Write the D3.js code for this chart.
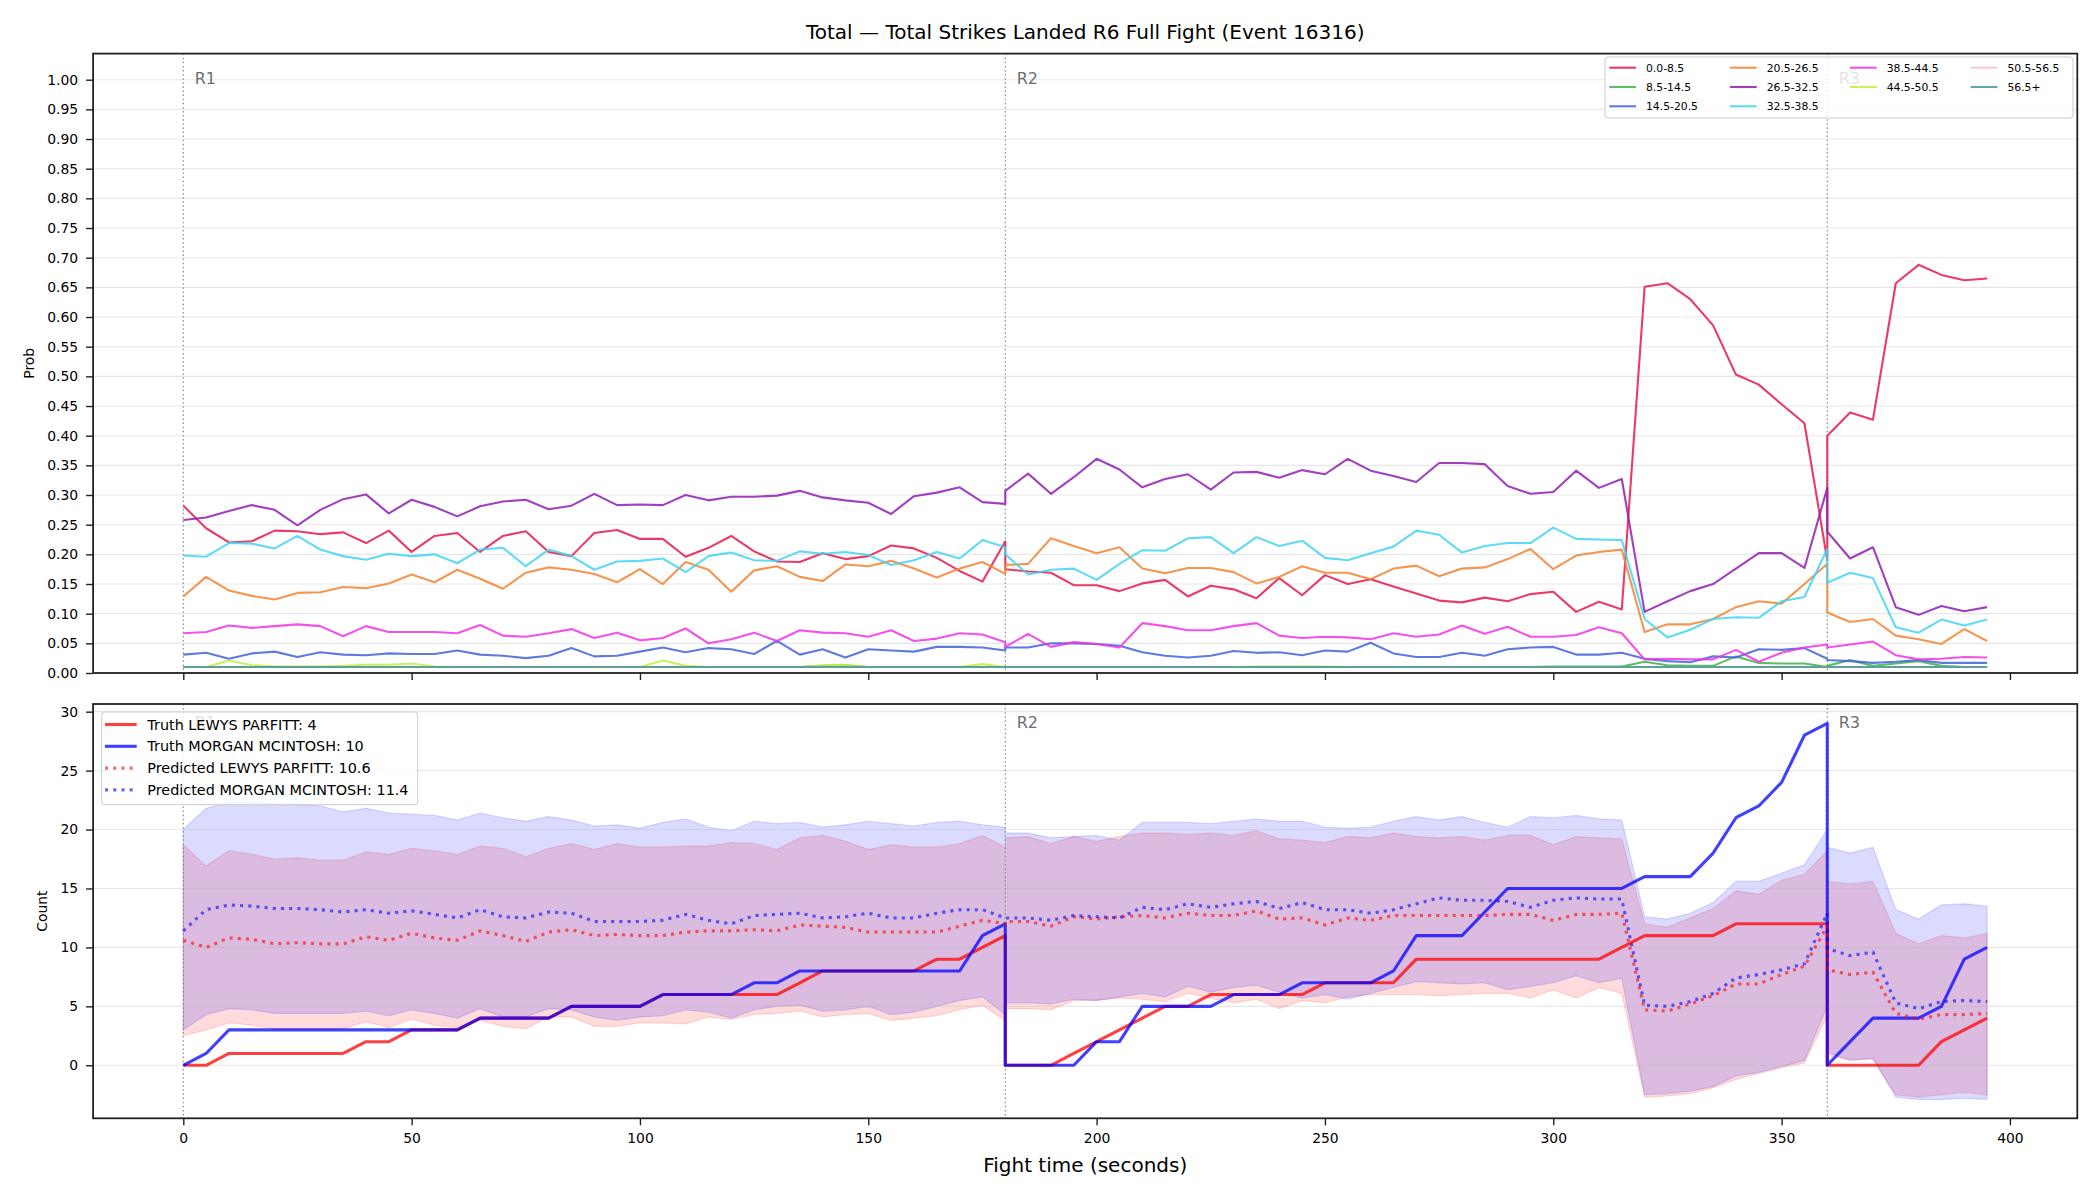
<!DOCTYPE html>
<html>
<head>
<meta charset="utf-8">
<script src="https://cdn.jsdelivr.net/npm/d3@7"></script>
<style>
  body { margin: 0; background: #fff; }
  svg { font-family: "DejaVu Sans", sans-serif; }
</style>
</head>
<body>
<svg id="chart" width="2100" height="1200"></svg>
<script>
// fight time (s). 180 and 360 appear twice: end of one round, start of the next
var times = [0,5,10,15,20,25,30,35,40,45,50,55,60,65,70,75,80,85,90,95,100,105,110,115,120,125,130,135,140,145,150,155,160,165,170,175,180,
  180,185,190,195,200,205,210,215,220,225,230,235,240,245,250,255,260,265,270,275,280,285,290,295,300,305,310,315,320,325,330,335,340,345,350,355,360,
  360,365,370,375,380,385,390,395];

var bucketLabels = ["0.0-8.5", "8.5-14.5", "14.5-20.5", "20.5-26.5", "26.5-32.5", "32.5-38.5", "38.5-44.5", "44.5-50.5", "50.5-56.5", "56.5+"];
var bucketColors = ["#e6194B", "#3cb44b", "#4363d8", "#f58231", "#911eb4", "#42d4f4", "#f032e6", "#bfef45", "#fabed4", "#469990"];

// probability of each total-strikes bucket over time
var p_0_8 = [.282,.244,.220,.222,.240,.239,.234,.237,.219,.240,.204,.231,.236,.204,.231,.239,.204,.197,.236,.241,.226,.226,.196,.211,.231,.205,.188,.187,.202,.192,.197,.215,.210,.194,.172,.154,.222,
  .175,.171,.169,.148,.148,.138,.151,.157,.129,.147,.141,.126,.160,.131,.165,.150,.158,.146,.134,.122,.119,.127,.121,.133,.137,.103,.120,.107,.651,.657,.630,.586,.503,.486,.453,.421,.190,
  .400,.439,.427,.657,.688,.671,.662,.665];
var p_8_14 = [.010,.010,.010,.010,.010,.010,.010,.010,.010,.010,.010,.010,.010,.010,.010,.010,.010,.010,.010,.010,.010,.010,.010,.010,.010,.010,.010,.010,.012,.013,.010,.010,.010,.010,.010,.010,.010,
  .010,.010,.010,.010,.010,.010,.010,.010,.010,.010,.010,.010,.010,.010,.010,.010,.010,.010,.010,.010,.010,.010,.010,.010,.011,.011,.011,.011,.019,.013,.012,.012,.028,.017,.016,.016,.010,
  .012,.022,.012,.016,.020,.012,.010,.010];
var p_14_20 = [.031,.034,.024,.033,.036,.027,.035,.031,.030,.033,.032,.032,.038,.031,.029,.025,.029,.042,.028,.029,.036,.043,.035,.042,.040,.032,.054,.031,.040,.026,.040,.038,.036,.044,.044,.043,.038,
  .043,.043,.050,.050,.049,.046,.035,.029,.026,.029,.037,.034,.035,.030,.038,.036,.051,.033,.027,.027,.034,.029,.040,.043,.044,.031,.031,.034,.024,.020,.018,.028,.026,.040,.039,.042,.024,
  .022,.020,.017,.019,.022,.017,.017,.017];
var p_20_26 = [.129,.162,.139,.130,.124,.135,.136,.145,.143,.151,.166,.153,.174,.159,.142,.169,.178,.174,.167,.153,.175,.150,.187,.174,.137,.173,.180,.162,.155,.183,.180,.189,.176,.161,.176,.187,.167,
  .182,.184,.227,.214,.202,.212,.176,.168,.177,.177,.170,.151,.162,.180,.169,.169,.158,.176,.181,.163,.176,.178,.192,.209,.175,.198,.204,.208,.069,.082,.082,.091,.111,.121,.117,.150,.184,
  .102,.086,.091,.063,.057,.049,.074,.054];
var p_26_32 = [.258,.262,.273,.283,.275,.249,.275,.293,.301,.269,.292,.280,.264,.281,.289,.292,.276,.282,.302,.283,.284,.283,.300,.291,.297,.297,.299,.307,.296,.291,.287,.268,.298,.304,.313,.288,.285,
  .307,.336,.302,.330,.361,.343,.313,.327,.335,.309,.338,.339,.329,.342,.335,.361,.341,.332,.322,.354,.354,.352,.315,.302,.305,.341,.312,.327,.103,.121,.138,.150,.176,.202,.202,.177,.312,
  .238,.193,.212,.111,.098,.113,.104,.111];
var p_32_38 = [.198,.196,.219,.218,.210,.231,.208,.197,.191,.201,.197,.200,.185,.208,.211,.180,.208,.197,.174,.188,.189,.193,.170,.197,.203,.190,.189,.205,.201,.204,.199,.182,.190,.204,.193,.224,.212,
  .200,.166,.174,.176,.157,.184,.207,.206,.227,.229,.202,.229,.214,.223,.194,.190,.202,.213,.240,.233,.203,.214,.219,.219,.245,.226,.225,.224,.091,.060,.073,.091,.094,.093,.121,.128,.209,
  .152,.169,.160,.077,.068,.090,.080,.090];
var p_38_44 = [.067,.069,.080,.076,.079,.082,.079,.062,.079,.069,.069,.069,.067,.081,.063,.061,.067,.074,.059,.068,.055,.059,.075,.050,.057,.068,.054,.072,.068,.067,.061,.072,.054,.058,.067,.065,.052,
  .044,.066,.044,.052,.049,.043,.084,.079,.072,.072,.079,.084,.063,.059,.061,.060,.057,.067,.061,.065,.080,.066,.078,.061,.061,.064,.077,.067,.023,.024,.023,.023,.039,.019,.034,.043,.048,
  .043,.048,.053,.030,.023,.024,.027,.026];
var p_44_50 = [.010,.010,.021,.013,.011,.011,.011,.012,.014,.014,.016,.011,.010,.010,.010,.010,.010,.010,.010,.010,.010,.021,.012,.010,.010,.010,.010,.010,.013,.014,.010,.010,.010,.010,.010,.015,.010,
  .010,.010,.010,.010,.010,.010,.010,.010,.010,.010,.010,.011,.011,.011,.011,.010,.010,.010,.010,.010,.010,.010,.010,.010,.010,.010,.010,.010,.010,.010,.010,.010,.010,.010,.010,.010,.010,
  .010,.010,.010,.010,.010,.010,.010,.010];
var p_50_56 = [.010,.010,.010,.010,.010,.010,.010,.010,.010,.010,.010,.010,.010,.010,.010,.010,.010,.010,.010,.010,.010,.010,.010,.010,.010,.010,.010,.010,.010,.010,.010,.010,.010,.010,.010,.010,.010,
  .010,.010,.010,.010,.010,.010,.010,.010,.010,.010,.010,.010,.010,.010,.010,.010,.010,.010,.010,.010,.010,.010,.010,.010,.010,.010,.010,.010,.010,.010,.010,.010,.010,.010,.010,.010,.010,
  .010,.010,.010,.010,.010,.010,.010,.010];
var p_56_up = [.010,.010,.010,.010,.010,.010,.010,.010,.010,.010,.010,.010,.010,.010,.010,.010,.010,.010,.010,.010,.010,.010,.010,.010,.010,.010,.010,.010,.010,.010,.010,.010,.010,.010,.010,.010,.010,
  .010,.010,.010,.010,.010,.010,.010,.010,.010,.010,.010,.010,.010,.010,.010,.010,.010,.010,.010,.010,.010,.010,.010,.010,.010,.010,.010,.010,.010,.010,.010,.010,.010,.010,.010,.010,.010,
  .010,.010,.010,.010,.010,.010,.010,.010];

// strike counts (count resets at each round start)
var truthParfitt = [0,0,1,1,1,1,1,1,2,2,3,3,3,4,4,4,4,5,5,5,5,6,6,6,6,6,6,7,8,8,8,8,8,9,9,10,11,
  0,0,0,1,2,3,4,5,5,6,6,6,6,6,7,7,7,7,9,9,9,9,9,9,9,9,9,10,11,11,11,11,12,12,12,12,12,
  0,0,0,0,0,2,3,4];
var truthMcintosh = [0,1,3,3,3,3,3,3,3,3,3,3,3,4,4,4,4,5,5,5,5,6,6,6,6,7,7,8,8,8,8,8,8,8,8,11,12,
  0,0,0,0,2,2,5,5,5,5,6,6,6,7,7,7,7,8,11,11,11,13,15,15,15,15,15,15,16,16,16,18,21,22,24,28,29,
  0,2,4,4,4,5,9,10];
var predParfitt = [10.6,10.0,10.8,10.7,10.3,10.4,10.3,10.3,10.9,10.6,11.2,10.8,10.6,11.4,11.0,10.5,11.3,11.5,11.0,11.1,11.0,11.0,11.3,11.4,11.4,11.5,11.4,11.9,11.8,11.7,11.3,11.3,11.3,11.3,11.8,12.3,12.0,
  12.2,12.2,11.8,12.6,12.4,12.6,12.7,12.5,12.9,12.7,12.7,13.1,12.4,12.5,11.9,12.5,12.3,12.7,12.7,12.7,12.7,12.7,12.8,12.8,12.3,12.8,12.8,12.9,4.7,4.6,5.2,5.9,6.9,6.9,7.7,8.4,11.8,
  8.1,7.7,7.9,4.4,3.9,4.3,4.3,4.4];
var predMcintosh = [11.4,13.2,13.6,13.5,13.3,13.3,13.2,13.0,13.2,12.9,13.1,12.8,12.5,13.2,12.6,12.5,13.0,12.9,12.2,12.2,12.2,12.3,12.8,12.3,12.0,12.7,12.8,12.9,12.5,12.6,12.9,12.5,12.5,12.9,13.2,13.2,12.5,
  12.5,12.5,12.3,12.7,12.6,12.5,13.4,13.2,13.7,13.4,13.7,13.9,13.3,13.8,13.2,13.2,12.9,13.2,13.7,14.2,14.0,14.0,13.9,13.4,14.0,14.2,14.1,14.1,5.1,5.0,5.4,6.1,7.4,7.7,8.1,8.6,12.9,
  9.9,9.3,9.6,5.3,4.8,5.4,5.5,5.4];
var lowParfitt = [2.5,3.0,3.6,3.4,3.1,3.1,3.1,3.1,3.7,3.2,3.9,3.4,3.2,3.8,3.3,3.1,4.1,4.1,3.3,3.3,3.6,3.6,3.5,4.1,3.9,4.3,4.4,4.6,4.1,4.3,4.4,3.8,4.0,4.2,4.7,5.1,3.8,
  4.8,4.8,4.7,5.5,5.5,5.7,5.6,5.4,6.1,5.7,5.3,5.6,4.8,5.5,5.3,5.8,6.0,6.0,6.0,5.9,6.0,6.1,6.1,5.7,6.4,5.7,6.6,6.1,-2.7,-2.6,-2.4,-1.9,-1.2,-0.7,-0.2,0.2,4.2,
  0.8,0.5,0.5,-2.5,-2.7,-2.5,-2.3,-2.5];
var highParfitt = [18.7,16.9,18.2,17.9,17.5,17.6,17.4,17.4,18.1,17.9,18.4,18.2,17.9,18.6,18.4,17.7,18.4,18.8,18.3,18.8,18.5,18.5,18.6,18.6,18.9,18.8,18.3,19.3,19.5,19.0,18.3,18.7,18.5,18.5,18.8,19.5,18.5,
  19.3,19.4,18.8,19.4,19.0,19.4,19.7,19.7,19.6,19.7,19.5,19.9,19.2,19.1,18.9,19.4,19.3,19.7,19.4,19.3,19.4,19.1,19.5,19.5,18.7,19.4,19.3,19.2,12.0,11.7,12.5,13.3,14.8,14.5,15.7,16.2,18.2,
  15.6,15.4,15.6,11.2,10.3,11.0,10.8,11.2];
var lowMcintosh = [3.0,4.3,4.8,4.7,4.4,4.4,4.4,4.4,4.6,4.2,4.7,4.4,4.0,4.8,4.1,4.1,4.8,4.7,4.1,3.8,4.1,4.2,4.7,4.5,4.0,4.7,5.0,5.1,4.6,4.7,5.0,4.3,4.5,5.0,5.5,5.8,4.3,
  5.3,5.3,5.2,5.6,5.5,5.8,6.1,5.8,6.7,6.2,6.6,6.8,6.2,5.7,6.0,5.6,6.1,6.6,7.1,7.0,6.9,7.0,6.4,6.7,7.0,7.6,7.0,7.4,-2.5,-2.4,-2.2,-1.8,-0.9,-0.6,-0.1,0.4,5.0,
  1.1,0.4,0.6,-2.7,-2.9,-2.9,-2.8,-2.9];
var highMcintosh = [20.0,21.8,22.3,22.3,22.2,22.1,22.0,21.5,21.8,21.4,21.3,21.2,20.8,21.4,21.0,20.7,21.1,20.8,20.3,20.4,20.1,20.6,20.9,20.2,19.9,20.7,20.5,20.6,20.2,20.4,20.7,20.5,20.3,20.6,20.7,20.4,20.2,
  19.7,19.7,19.3,19.4,19.5,19.1,20.6,20.6,20.6,20.5,20.7,20.9,20.7,20.7,20.2,20.1,20.2,20.7,21.1,20.8,21.1,20.6,20.2,21.1,21.0,21.2,20.9,20.8,12.6,12.4,12.9,13.8,15.6,15.6,16.3,17.0,20.0,
  18.5,18.0,18.5,13.2,12.4,13.6,13.7,13.5];

var roundStarts = [0, 180, 360];
var roundLabels = ["R1", "R2", "R3"];

var timeTicks = [0, 50, 100, 150, 200, 250, 300, 350, 400];
var probTicks = [0, 0.05, 0.10, 0.15, 0.20, 0.25, 0.30, 0.35, 0.40, 0.45, 0.50, 0.55, 0.60, 0.65, 0.70, 0.75, 0.80, 0.85, 0.90, 0.95, 1.00];
var countTicks = [0, 5, 10, 15, 20, 25, 30];

var bucketSeries = [p_0_8, p_8_14, p_14_20, p_20_26, p_26_32, p_32_38, p_38_44, p_44_50, p_50_56, p_56_up];


/**
 * layout (pixels)
 */
var PLOT_L = 93.1, PLOT_R = 2077.3;
var TOP = { top: 53.6, bottom: 673 };
var BOT = { top: 704, bottom: 1118.3 };
var TICK_FONT = 13.9;

var svg = d3.select("#chart");

var xRange = d3.scaleLinear().domain([-19.75, 414.75]).range([PLOT_L, PLOT_R]);
var yProb = d3.scaleLinear().domain([0, 1.044]).range([TOP.bottom, TOP.top]);
var yCount = d3.scaleLinear().domain([-4.5, 30.65]).range([BOT.bottom, BOT.top]);


function drawGrid(g, yScale, ticks) {
    g.append("g").selectAll("line").data(ticks).enter().append("line")
        .attr("x1", PLOT_L).attr("x2", PLOT_R)
        .attr("y1", function (d) { return yScale(d); })
        .attr("y2", function (d) { return yScale(d); })
        .attr("stroke", "#b0b0b0").attr("stroke-opacity", 0.3).attr("stroke-width", 1.1);
}

function drawRounds(g, box) {
    var rg = g.append("g");
    rg.selectAll("line").data(roundStarts).enter().append("line")
        .attr("x1", function (d) { return xRange(d); })
        .attr("x2", function (d) { return xRange(d); })
        .attr("y1", box.top).attr("y2", box.bottom)
        .attr("stroke", "#808080").attr("stroke-width", 1.1)
        .attr("stroke-dasharray", "1.5,2.6");
}

function drawRoundLabels(g, box, which) {
    g.append("g").selectAll("text").data(which).enter().append("text")
        .attr("x", function (i) { return xRange(roundStarts[i] + 2.5); })
        .attr("y", box.top + 0.03 * (box.bottom - box.top))
        .attr("dominant-baseline", "hanging")
        .attr("font-size", 16)
        .attr("fill", "#6e6e6e")
        .text(function (i) { return roundLabels[i]; });
}

function drawSpines(g, box) {
    g.append("rect")
        .attr("x", PLOT_L).attr("y", box.top)
        .attr("width", PLOT_R - PLOT_L).attr("height", box.bottom - box.top)
        .attr("fill", "none").attr("stroke", "#222").attr("stroke-width", 1.8);
}

function styleAxis(a) {
    a.select(".domain").remove();
    a.selectAll(".tick line").attr("stroke", "#222").attr("stroke-width", 1.4);
    a.selectAll(".tick text").attr("fill", "#000").attr("font-size", TICK_FONT)
        .attr("font-family", "DejaVu Sans, sans-serif");
}

/**
 * legend: o.cols gives how many entries go in each column (filled column by column)
 */
function drawLegend(g, items, o) {
    var lg = g.append("g");
    lg.append("rect")
        .attr("x", o.x).attr("y", o.y).attr("width", o.w).attr("height", o.h)
        .attr("rx", 3).attr("ry", 3)
        .attr("fill", "#fff").attr("fill-opacity", 0.8)
        .attr("stroke", "#cccccc").attr("stroke-width", 1);
    var col = 0, row = 0;
    items.forEach(function (it) {
        if (row >= o.cols[col]) { col += 1; row = 0; }
        var hx = o.colX[col], hy = o.rowY[row];
        lg.append("line")
            .attr("x1", hx).attr("x2", hx + o.handle)
            .attr("y1", hy).attr("y2", hy)
            .attr("stroke", it.color).attr("stroke-width", it.width)
            .attr("stroke-opacity", it.opacity)
            .attr("stroke-dasharray", it.dash || null);
        lg.append("text")
            .attr("x", hx + o.textGap).attr("y", hy)
            .attr("dy", "0.36em")
            .attr("font-size", o.font).attr("fill", "#000")
            .text(it.label);
        row += 1;
    });
}


/**
 * title and shared labels
 */
svg.append("text")
    .attr("x", (PLOT_L + PLOT_R) / 2).attr("y", 39)
    .attr("text-anchor", "middle").attr("font-size", 20)
    .text("Total \u2014 Total Strikes Landed R6 Full Fight (Event 16316)");

svg.append("text")
    .attr("x", (PLOT_L + PLOT_R) / 2).attr("y", 1172)
    .attr("text-anchor", "middle").attr("font-size", 20)
    .text("Fight time (seconds)");

svg.append("text")
    .attr("transform", "translate(29," + (TOP.top + TOP.bottom) / 2 + ") rotate(-90)")
    .attr("text-anchor", "middle").attr("dominant-baseline", "central")
    .attr("font-size", TICK_FONT).text("Prob");

svg.append("text")
    .attr("transform", "translate(41.5," + (BOT.top + BOT.bottom) / 2 + ") rotate(-90)")
    .attr("text-anchor", "middle").attr("dominant-baseline", "central")
    .attr("font-size", TICK_FONT).text("Count");


/**
 * top panel: bucket probabilities
 */
var probPanel = svg.append("g");
drawGrid(probPanel, yProb, probTicks);
drawRounds(probPanel, TOP);

var probLine = d3.line()
    .x(function (d, i) { return xRange(times[i]); })
    .y(function (d) { return yProb(d); });

bucketSeries.forEach(function (s, k) {
    probPanel.append("path")
        .attr("d", probLine(s))
        .attr("fill", "none")
        .attr("stroke", bucketColors[k])
        .attr("stroke-opacity", 0.85)
        .attr("stroke-width", 2.1)
        .attr("stroke-linejoin", "round");
});

drawRoundLabels(probPanel, TOP, [0, 1, 2]);

var xTop = probPanel.append("g")
    .attr("transform", "translate(0," + TOP.bottom + ")")
    .call(d3.axisBottom(xRange).tickValues(timeTicks).tickSize(7).tickFormat(""));
styleAxis(xTop);

var yTop = probPanel.append("g")
    .attr("transform", "translate(" + PLOT_L + ",0)")
    .call(d3.axisLeft(yProb).tickValues(probTicks).tickSize(7).tickPadding(8).tickFormat(d3.format(".2f")));
styleAxis(yTop);

drawSpines(probPanel, TOP);

drawLegend(probPanel, bucketLabels.map(function (l, k) {
    return { label: l, color: bucketColors[k], width: 2.1, opacity: 0.85 };
}), {
    x: 1605, y: 57, w: 468, h: 61, cols: [3, 3, 2, 2],
    colX: [1609.3, 1730, 1850, 1970.7], rowY: [67.7, 87, 106.3],
    handle: 26.7, textGap: 36.7, font: 10.8
});


/**
 * bottom panel: truth vs predicted counts
 */
var countPanel = svg.append("g");

var band = d3.area()
    .x(function (d, i) { return xRange(times[i]); })
    .y0(function (d) { return yCount(d[0]); })
    .y1(function (d) { return yCount(d[1]); });

function zipBand(lo, hi) {
    return lo.map(function (v, i) { return [v, hi[i]]; });
}

[[lowParfitt, highParfitt, "#ff0000"], [lowMcintosh, highMcintosh, "#0000ff"]].forEach(function (b) {
    countPanel.append("path")
        .attr("d", band(zipBand(b[0], b[1])))
        .attr("fill", b[2]).attr("fill-opacity", 0.14)
        .attr("stroke", b[2]).attr("stroke-opacity", 0.14).attr("stroke-width", 1.2);
});

drawGrid(countPanel, yCount, countTicks);
drawRounds(countPanel, BOT);

var countLine = d3.line()
    .x(function (d, i) { return xRange(times[i]); })
    .y(function (d) { return yCount(d); });

var bottomSeries = [
    { data: truthParfitt, label: "Truth LEWYS PARFITT: 4", color: "#ff0000", width: 3.1, opacity: 0.75 },
    { data: truthMcintosh, label: "Truth MORGAN MCINTOSH: 10", color: "#0000ff", width: 3.1, opacity: 0.75 },
    { data: predParfitt, label: "Predicted LEWYS PARFITT: 10.6", color: "#ff0000", width: 3.1, opacity: 0.6, dash: "3.1,5.1" },
    { data: predMcintosh, label: "Predicted MORGAN MCINTOSH: 11.4", color: "#0000ff", width: 3.1, opacity: 0.6, dash: "3.1,5.1" }
];

bottomSeries.forEach(function (s) {
    countPanel.append("path")
        .attr("d", countLine(s.data))
        .attr("fill", "none")
        .attr("stroke", s.color)
        .attr("stroke-opacity", s.opacity)
        .attr("stroke-width", s.width)
        .attr("stroke-linejoin", "round")
        .attr("stroke-dasharray", s.dash || null);
});

// R1 sits under the legend here, as in the original
drawRoundLabels(countPanel, BOT, [0, 1, 2]);

var xBot = countPanel.append("g")
    .attr("transform", "translate(0," + BOT.bottom + ")")
    .call(d3.axisBottom(xRange).tickValues(timeTicks).tickSize(7).tickPadding(8));
styleAxis(xBot);

var yBot = countPanel.append("g")
    .attr("transform", "translate(" + PLOT_L + ",0)")
    .call(d3.axisLeft(yCount).tickValues(countTicks).tickSize(7).tickPadding(8));
styleAxis(yBot);

drawSpines(countPanel, BOT);

drawLegend(countPanel, bottomSeries, {
    x: 101.7, y: 712, w: 316, h: 92.7, cols: [4],
    colX: [105], rowY: [724.5, 746.3, 768.1, 789.9],
    handle: 31.7, textGap: 42.3, font: 14.4
});
</script>
</body>
</html>
